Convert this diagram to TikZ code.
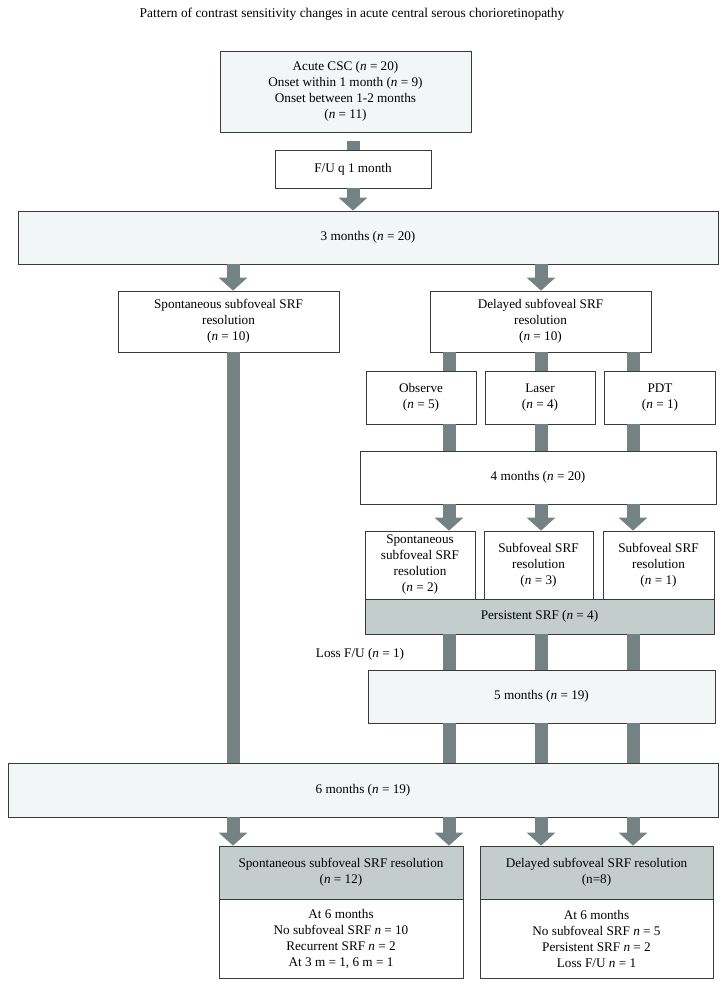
\documentclass[tikz,border=0pt]{standalone}
\usepackage{fontspec}
\setmainfont{Liberation Serif}
\usetikzlibrary{arrows.meta}

\definecolor{barcol}{HTML}{748283}
\definecolor{lightfill}{HTML}{F3F6F7}
\definecolor{grayfill}{HTML}{C3CECC}
\definecolor{boxline}{HTML}{3A3A3A}
\newcommand{\nv}{\textit{n}}

\begin{document}
\begin{tikzpicture}[x=1pt, y=-1pt,
    box/.style={draw=boxline, line width=0.7pt, align=center, inner sep=0pt,
        fill=white, font=\fontsize{13.2}{16}\selectfont},
    bar/.style={draw=barcol, line width=13pt},
    arr/.style={bar, -{Triangle[width=28pt, length=13pt]}}]

        % Fix the page size
        \useasboundingbox (0,0) rectangle (724,987);

        % Title
        \node[font=\fontsize{13.4}{15}\selectfont] (title) at (352,14)
            {Pattern of contrast sensitivity changes in acute central serous chorioretinopathy};

        % Columns of the connectors
        \coordinate (colL) at (233,0);
        \coordinate (colA) at (449,0);
        \coordinate (colB) at (541,0);
        \coordinate (colC) at (633,0);

        % Start and 3 months
        \node[box, fill=lightfill, minimum width=251pt, minimum height=81pt] (acute) at (345.5,91.5)
            {Acute CSC (\nv{} = 20)\\Onset within 1 month (\nv{} = 9)\\Onset between 1-2 months\\(\nv{} = 11)};
        \node[box, minimum width=156pt, minimum height=38pt] (fu) at (353,169) {F/U q 1 month};
        \node[box, fill=lightfill, minimum width=700pt, minimum height=53pt] (m3) at (368,237.5)
            {3 months (\nv{} = 20)};

        % Two branches
        \node[box, minimum width=221pt, minimum height=61pt] (spont) at (228.5,321.5)
            {Spontaneous subfoveal SRF\\resolution\\(\nv{} = 10)};
        \node[box, minimum width=221pt, minimum height=61pt] (delay) at (540.5,321.5)
            {Delayed subfoveal SRF\\resolution\\(\nv{} = 10)};

        % Treatments
        \node[box, minimum width=110pt, minimum height=53pt] (observe) at (421,397.5) {Observe\\(\nv{} = 5)};
        \node[box, minimum width=110pt, minimum height=53pt] (laser) at (540,397.5) {Laser\\(\nv{} = 4)};
        \node[box, minimum width=111pt, minimum height=53pt] (pdt) at (660,397.5) {PDT\\(\nv{} = 1)};

        % 4 months
        \node[box, minimum width=356pt, minimum height=53pt] (m4) at (538,477.5) {4 months (\nv{} = 20)};
        \node[box, minimum width=110pt, minimum height=68pt] (res1) at (420,565)
            {Spontaneous\\subfoveal SRF\\resolution\\(\nv{} = 2)};
        \node[box, minimum width=109pt, minimum height=68pt] (res2) at (538.5,565)
            {Subfoveal SRF\\resolution\\(\nv{} = 3)};
        \node[box, minimum width=111pt, minimum height=68pt] (res3) at (658.5,565)
            {Subfoveal SRF\\resolution\\(\nv{} = 1)};
        \node[box, fill=grayfill, minimum width=349pt, minimum height=35pt] (persist) at (539.5,616.5)
            {Persistent SRF (\nv{} = 4)};

        % 5 and 6 months
        \node[font=\fontsize{13.2}{16}\selectfont] (loss) at (360,654) {Loss F/U (\nv{} = 1)};
        \node[box, fill=lightfill, minimum width=347pt, minimum height=53pt] (m5) at (541.5,696.5)
            {5 months (\nv{} = 19)};
        \node[box, fill=lightfill, minimum width=710pt, minimum height=54pt] (m6) at (363,790)
            {6 months (\nv{} = 19)};

        % Outcomes
        \node[box, fill=grayfill, minimum width=244pt, minimum height=53pt] (sgray) at (341,872.5)
            {Spontaneous subfoveal SRF resolution\\(\nv{} = 12)};
        \node[box, minimum width=244pt, minimum height=79pt] (swhite) at (341,938.5)
            {At 6 months\\No subfoveal SRF \nv{} = 10\\Recurrent SRF \nv{} = 2\\At 3 m = 1, 6 m = 1};
        \node[box, fill=grayfill, minimum width=233pt, minimum height=53pt] (dgray) at (596.5,872.5)
            {Delayed subfoveal SRF resolution\\(n=8)};
        \node[box, minimum width=233pt, minimum height=79pt] (dwhite) at (596.5,938.5)
            {At 6 months\\No subfoveal SRF \nv{} = 5\\Persistent SRF \nv{} = 2\\Loss F/U \nv{} = 1};

        % Connectors
        \draw[bar] ([yshift=-9pt]acute.south -| fu.north) -- (fu.north);
        \draw[arr] (fu.south) -- (fu.south |- m3.north);
        \draw[arr] (colL |- m3.south) -- (colL |- spont.north);
        \draw[arr] (colB |- m3.south) -- (colB |- delay.north);
        \draw[bar] (colL |- spont.south) -- (colL |- m6.north);
        \foreach \c/\t/\r in {colA/observe/res1, colB/laser/res2, colC/pdt/res3} {
            \draw[bar] (\c |- delay.south) -- (\c |- \t.north);
            \draw[bar] (\c |- \t.south) -- (\c |- m4.north);
            \draw[arr] (\c |- m4.south) -- (\c |- \r.north);
            \draw[bar] (\c |- persist.south) -- (\c |- m5.north);
            \draw[bar] (\c |- m5.south) -- (\c |- m6.north);
        }
        \foreach \c/\t in {colL/sgray, colA/sgray, colB/dgray, colC/dgray}
            \draw[arr] (\c |- m6.south) -- (\c |- \t.north);

    \end{tikzpicture}
\end{document}
